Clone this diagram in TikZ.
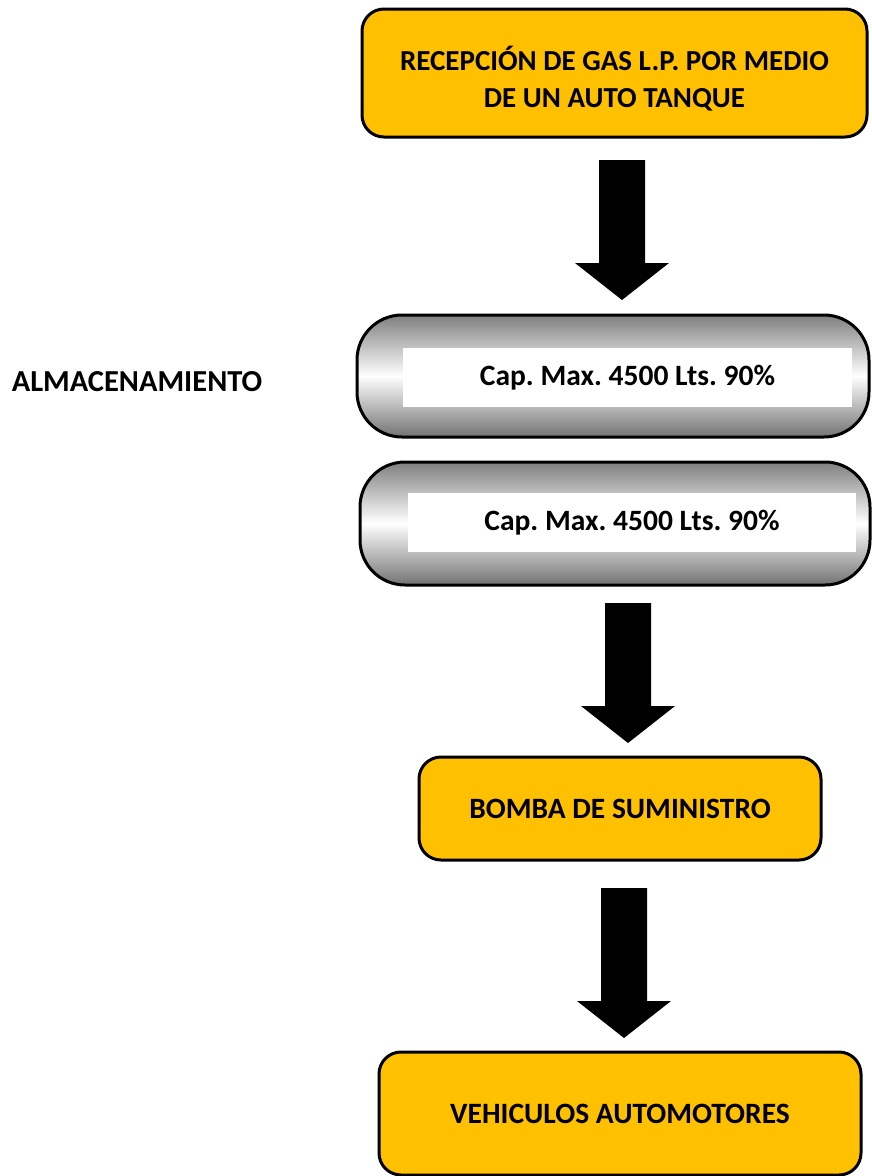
\documentclass[tikz,border=0pt]{standalone}
\usepackage{fontspec}
\setmainfont{Carlito}
\frenchspacing
\begin{document}
\begin{tikzpicture}[x=1pt,y=-1pt,
  procbox/.style={draw=black,line width=3pt,fill=boxorange,rounded corners=22pt,
     align=center,font=\bfseries\fontsize{29.5}{36}\selectfont,inner sep=0pt},
  tankbox/.style={draw=black,line width=3pt,rounded corners=45pt,
     top color=black!50,bottom color=black!55,middle color=white,inner sep=0pt},
  labelbox/.style={fill=white,inner sep=0pt,font=\bfseries\fontsize{29.5}{36}\selectfont},
  plain/.style={font=\bfseries\fontsize{30.5}{36}\selectfont,inner sep=0pt}]
\definecolor{boxorange}{HTML}{FFC000}
\useasboundingbox (0,0) rectangle (871,1176);
\newcommand\bigarrow[3]{%
  \fill[black] (#1-23,#2) -- (#1+23,#2) -- (#1+23,#3-37) -- (#1+47,#3-37)
    -- (#1,#3) -- (#1-47,#3-37) -- (#1-23,#3-37) -- cycle;}
% boxes
\node[procbox,minimum width=505pt,minimum height=128pt] (rec) at (614.5,73) {};
\node[align=center,inner sep=0pt,font=\bfseries\fontsize{29}{37}\selectfont]
  (rectext) at (614.5,79) {RECEPCIÓN DE GAS L.P. POR MEDIO\\DE UN AUTO TANQUE};
\node[tankbox,minimum width=512pt,minimum height=122pt] (t1) at (613,376) {};
\node[labelbox,minimum width=449pt,minimum height=59pt] (l1) at (627.5,377.5)
  {Cap. Max. 4500 Lts. 90\%};
\node[tankbox,minimum width=510pt,minimum height=123pt] (t2) at (615,523.5) {};
\node[labelbox,minimum width=448pt,minimum height=59pt] (l2) at (632,522.5)
  {Cap. Max. 4500 Lts. 90\%};
\node[plain] (alm) at (137,382) {ALMACENAMIENTO};
\node[procbox,minimum width=402pt,minimum height=103pt] (bomba) at (620,808.5)
  {BOMBA DE SUMINISTRO};
\node[procbox,minimum width=482pt,minimum height=123pt] (veh) at (620,1113.5)
  {VEHICULOS AUTOMOTORES};
% arrows
\bigarrow{622}{160}{300}
\bigarrow{628}{603}{743}
\bigarrow{624}{888}{1038}
\end{tikzpicture}
\end{document}
